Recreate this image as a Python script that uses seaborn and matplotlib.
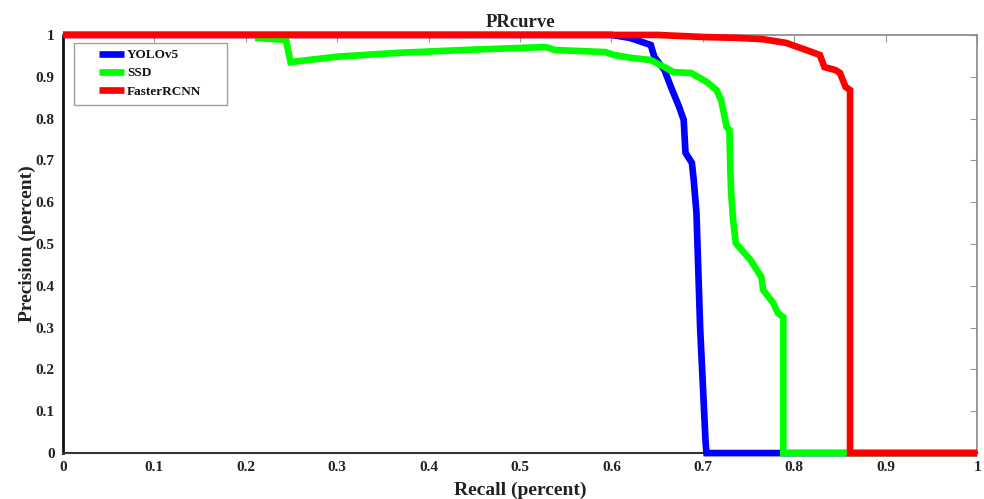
import numpy as np
import pandas as pd
import matplotlib
matplotlib.use("Agg")
import matplotlib.pyplot as plt
import seaborn as sns
from matplotlib.patches import Rectangle

# ---- data ----
yolo_recall = [0.0, 0.600, 0.620, 0.643, 0.647, 0.658, 0.665, 0.674, 0.679, 0.681, 0.688,
               0.690, 0.693, 0.697, 0.703, 0.704, 1.0]
yolo_precision = [1.0, 1.0, 0.993, 0.976, 0.947, 0.916, 0.876, 0.828, 0.797, 0.718, 0.694,
                  0.653, 0.574, 0.30, 0.024, 0.0, 0.0]

ssd_recall = [0.210, 0.244, 0.249, 0.300, 0.365, 0.450, 0.528, 0.538, 0.593, 0.603,
              0.622, 0.643, 0.658, 0.668, 0.687, 0.704, 0.715, 0.720, 0.726, 0.729,
              0.730, 0.731, 0.733, 0.736, 0.752, 0.764, 0.766, 0.777, 0.782, 0.788,
              0.788, 1.0]
ssd_precision = [0.993, 0.988, 0.935, 0.948, 0.957, 0.965, 0.971, 0.964, 0.959, 0.952,
                 0.945, 0.940, 0.923, 0.911, 0.909, 0.888, 0.868, 0.844, 0.780, 0.773,
                 0.680, 0.620, 0.560, 0.502, 0.462, 0.421, 0.390, 0.359, 0.335, 0.325,
                 0.0, 0.0]

frcnn_recall = [0.0, 0.650, 0.701, 0.737, 0.765, 0.791, 0.813, 0.828, 0.833, 0.845,
                0.850, 0.856, 0.861, 0.861, 1.0]
frcnn_precision = [1.0, 1.0, 0.995, 0.993, 0.990, 0.981, 0.964, 0.952, 0.923, 0.916,
                   0.909, 0.876, 0.868, 0.0, 0.0]

models = ["YOLOv5", "SSD", "FasterRCNN"]
colors = {"YOLOv5": "#0000FF", "SSD": "#00FF00", "FasterRCNN": "#FF0000"}

x_ticks = [0, 0.1, 0.2, 0.3, 0.4, 0.5, 0.6, 0.7, 0.8, 0.9, 1]
x_tick_labels = ["0", "0.1", "0.2", "0.3", "0.4", "0.5", "0.6", "0.7", "0.8", "0.9", "1"]
y_ticks = x_ticks
y_tick_labels = x_tick_labels

df = pd.concat([
    pd.DataFrame({"recall": yolo_recall, "precision": yolo_precision, "model": "YOLOv5"}),
    pd.DataFrame({"recall": ssd_recall, "precision": ssd_precision, "model": "SSD"}),
    pd.DataFrame({"recall": frcnn_recall, "precision": frcnn_precision, "model": "FasterRCNN"}),
], ignore_index=True)

sns.set_style("white")
plt.rcParams["font.family"] = ["Liberation Serif", "DejaVu Serif"]
plt.rcParams["font.weight"] = "bold"

fig = plt.figure(figsize=(9.84, 4.99), dpi=100)
ax = fig.add_axes([0.064, 0.092, 0.929, 0.838])

sns.lineplot(data=df, x="recall", y="precision", hue="model", hue_order=models,
             palette=colors, sort=False, estimator=None, linewidth=4.8,
             legend=False, ax=ax)
for ln in ax.lines:
    ln.set_clip_on(False)
    ln.set_solid_joinstyle("miter")
    ln.set_solid_capstyle("butt")
    ln.set_zorder(3)

ax.set_xlim(0, 1)
ax.set_ylim(0, 1)
ax.set_xticks(x_ticks)
ax.set_xticklabels(x_tick_labels)
ax.set_yticks(y_ticks)
ax.set_yticklabels(y_tick_labels)
ax.tick_params(axis="both", direction="in", length=5, width=0.8, color="#999999",
               labelsize=11, top=True, right=True, pad=6)
for lbl in ax.get_xticklabels() + ax.get_yticklabels():
    lbl.set_fontweight("bold")
    lbl.set_color("#222222")

for side in ["top", "right"]:
    ax.spines[side].set_color("#888888")
    ax.spines[side].set_linewidth(1.2)
ax.spines["left"].set_color("#111111")
ax.spines["left"].set_linewidth(2.0)
ax.spines["bottom"].set_color("#333333")
ax.spines["bottom"].set_linewidth(1.5)

ax.set_xlabel("Recall (percent)", fontsize=14, fontweight="bold", color="#222222", labelpad=5)
ax.set_ylabel("Precision (percent)", fontsize=14, fontweight="bold", color="#222222", labelpad=0)
ax.set_title("PRcurve", fontsize=13.5, fontweight="bold", color="#222222", pad=6)

# legend
handles = ax.lines[:3]
leg = ax.legend(handles, models, loc="upper left", bbox_to_anchor=(0.034, 0.979),
                frameon=False, handlelength=1.9, handletextpad=0.2,
                labelspacing=0.45, borderaxespad=0, borderpad=0.4,
                prop={"family": "Liberation Serif", "weight": "bold", "size": 9.5})
for t in leg.get_texts():
    t.set_color("#111111")
ax.add_patch(Rectangle((0.012, 0.8325), 0.167, 0.1485, transform=ax.transAxes,
                       fill=True, facecolor="white", edgecolor="#A0A0A0",
                       linewidth=1.0, zorder=4))
leg.set_zorder(5)

fig.savefig("out.png", dpi=100)
